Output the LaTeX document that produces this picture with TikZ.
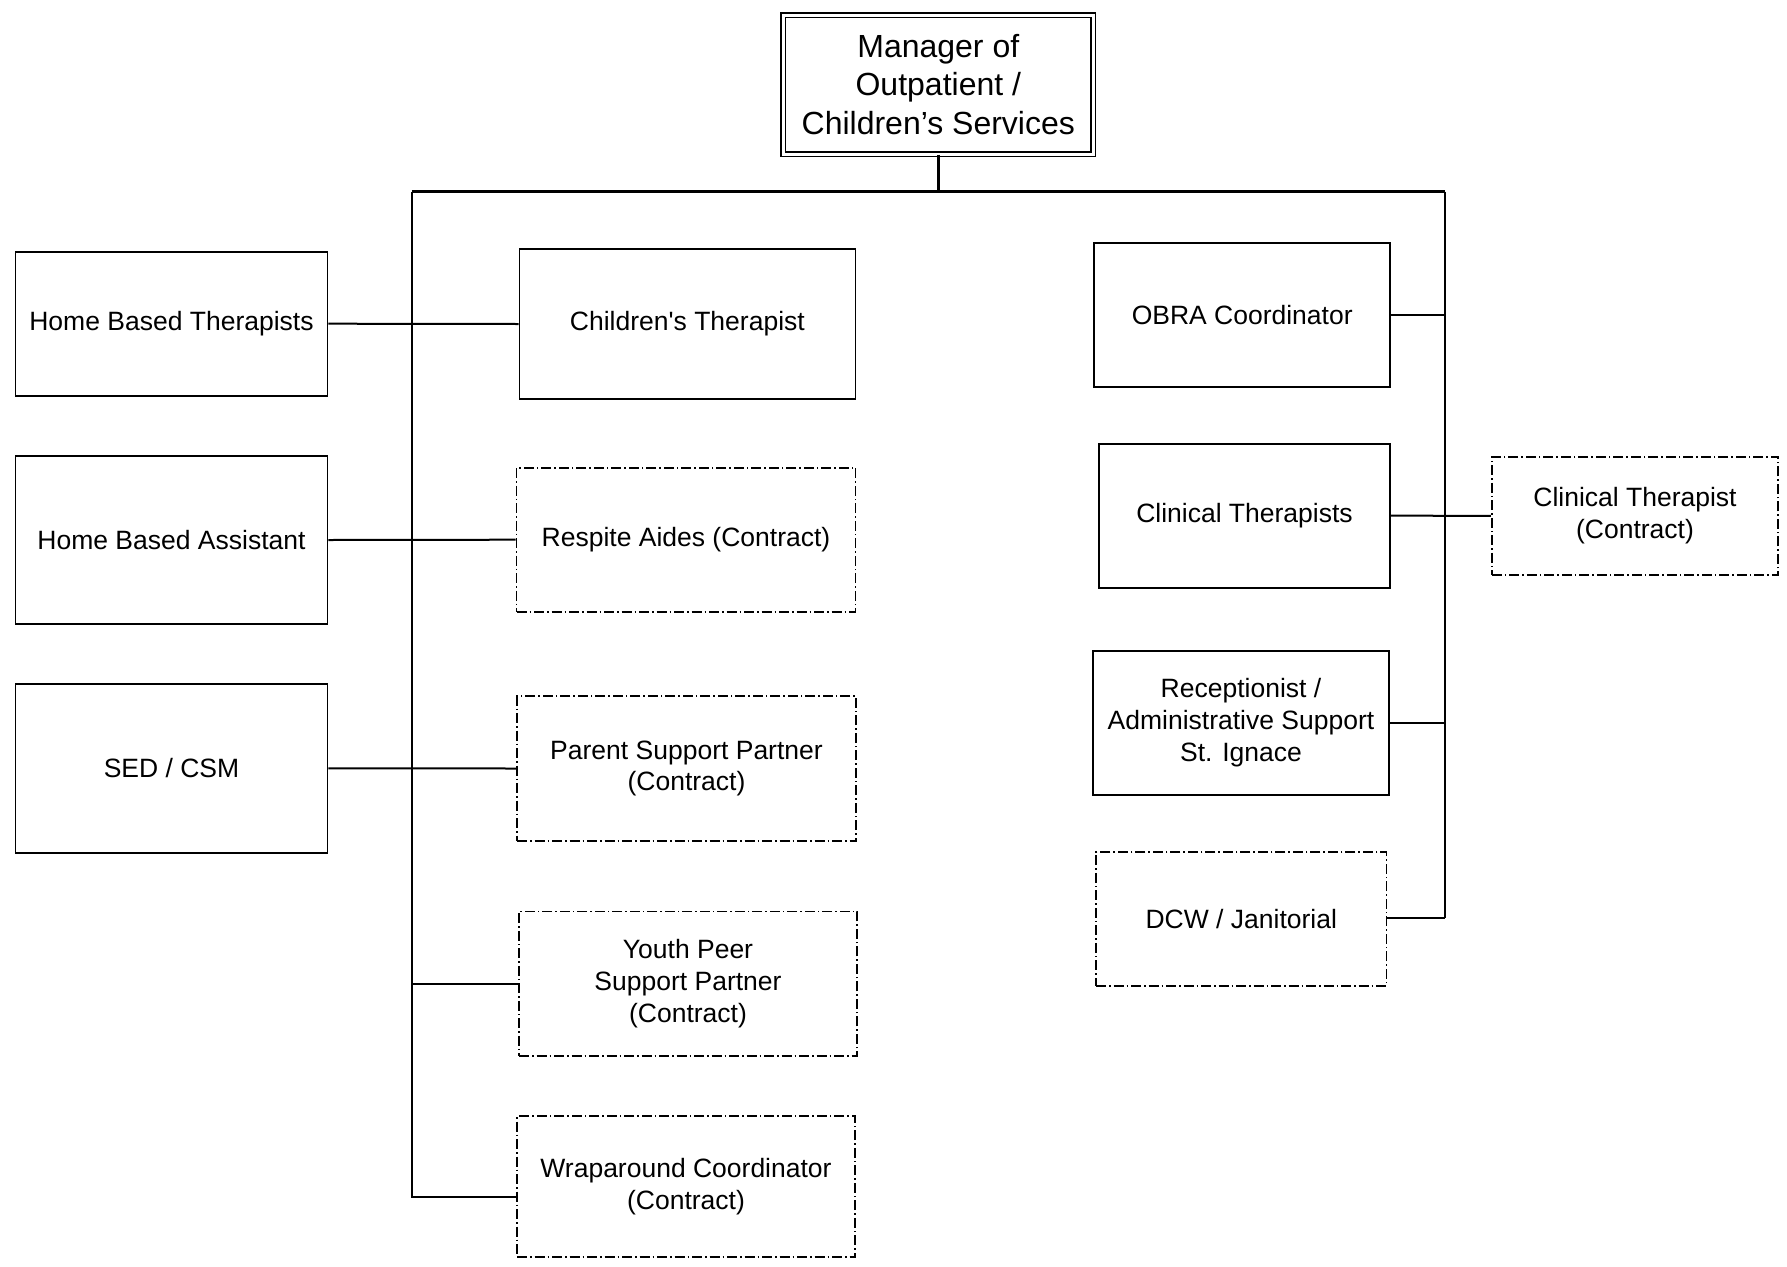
\documentclass[tikz,border=0pt]{standalone}
\usepackage{fontspec}
\setmainfont{Liberation Sans}
\newfontfamily\plainapos{Liberation Sans}[Ligatures=TeXOff]
\begin{document}
\begin{tikzpicture}[x=1pt,y=-1pt,
  box/.style={draw=black, line width=1.8pt, rectangle, align=center, inner sep=0pt,
    font=\fontsize{26.5}{31.8}\selectfont},
  contract/.style={box, line width=1.8pt, dash pattern=on 10pt off 3pt on 1.5pt off 3pt},
  mgrbox/.style={draw=black, double, double distance=3pt, line width=1.6pt, rectangle, align=center,
    inner sep=0pt, font=\fontsize{32}{38.4}\selectfont},
  link/.style={draw=black, line width=2pt},
  stem/.style={draw=black, line width=2.8pt}]
\useasboundingbox (0,0) rectangle (1787,1266);
\fill[white] (0,0) rectangle (1787,1266);

% top manager
\node[mgrbox, minimum width=310pt, minimum height=139pt] (mgr) at (938.3,84.5)
  {Manager of\\Outpatient /\\Children’s Services};

% left column
\node[box, minimum width=312pt, minimum height=144pt] (hbt) at (171.5,323.7) {Home Based Therapists};
\node[box, minimum width=312pt, minimum height=168pt] (hba) at (171.5,540) {Home Based Assistant};
\node[box, minimum width=312pt, minimum height=169pt] (sed) at (171.5,768.3) {SED / CSM};

% middle column
\node[box, minimum width=336pt, minimum height=150pt] (ct) at (687.4,324) {{\plainapos Children's Therapist}};
\node[contract, minimum width=339pt, minimum height=144pt] (resp) at (686,539.7) {Respite Aides (Contract)};
\node[contract, minimum width=339pt, minimum height=145pt] (psp) at (686.5,768.5) {Parent Support Partner\\(Contract)};
\node[contract, minimum width=338pt, minimum height=144.5pt] (ypsp) at (688,983.7) {Youth Peer\\Support Partner\\(Contract)};
\node[contract, minimum width=338pt, minimum height=141pt] (wrap) at (686,1186.7) {Wraparound Coordinator\\(Contract)};

% right column
\node[box, minimum width=296pt, minimum height=144pt] (obra) at (1242.2,314.7) {OBRA Coordinator};
\node[box, minimum width=290.5pt, minimum height=144pt] (clin) at (1244.5,515.7) {Clinical Therapists};
\node[contract, minimum width=286.5pt, minimum height=118.3pt] (clinc) at (1635,515.8) {Clinical Therapist\\(Contract)};
\node[box, minimum width=296pt, minimum height=143.7pt] (recep) at (1241,722.8) {Receptionist /\\Administrative Support\\St. Ignace};
\node[contract, minimum width=290.5pt, minimum height=133.4pt] (dcw) at (1241.3,919) {DCW / Janitorial};

% trunk coordinates
\coordinate (top) at (938.3,191.7);
\coordinate (lt) at (411.8,191.7);
\coordinate (rt) at (1445,191.7);
\coordinate (lb) at (411.8,1196.7);
\coordinate (ly) at (411.8,984);
\coordinate (ro) at (1445,315);
\coordinate (rr) at (1445,723);
\coordinate (rd) at (1445,918.3);

% connectors
\draw[stem] (mgr.south) -- (top);
\draw[stem] (lt) -- (rt);
\draw[link] (lt) -- (lb) -- (wrap.west |- lb);
\draw[link] (rt) -- (rd);
\draw[link] (hbt.east) -- (ct.west);
\draw[link] (hba.east) -- (resp.west);
\draw[link] (sed.east) -- (psp.west);
\draw[link] (ly) -- (ypsp.west |- ly);
\draw[link] (obra.east |- ro) -- (ro);
\draw[link] (clin.east) -- (clinc.west);
\draw[link] (recep.east |- rr) -- (rr);
\draw[link] (dcw.east |- rd) -- (rd);
\end{tikzpicture}
\end{document}
